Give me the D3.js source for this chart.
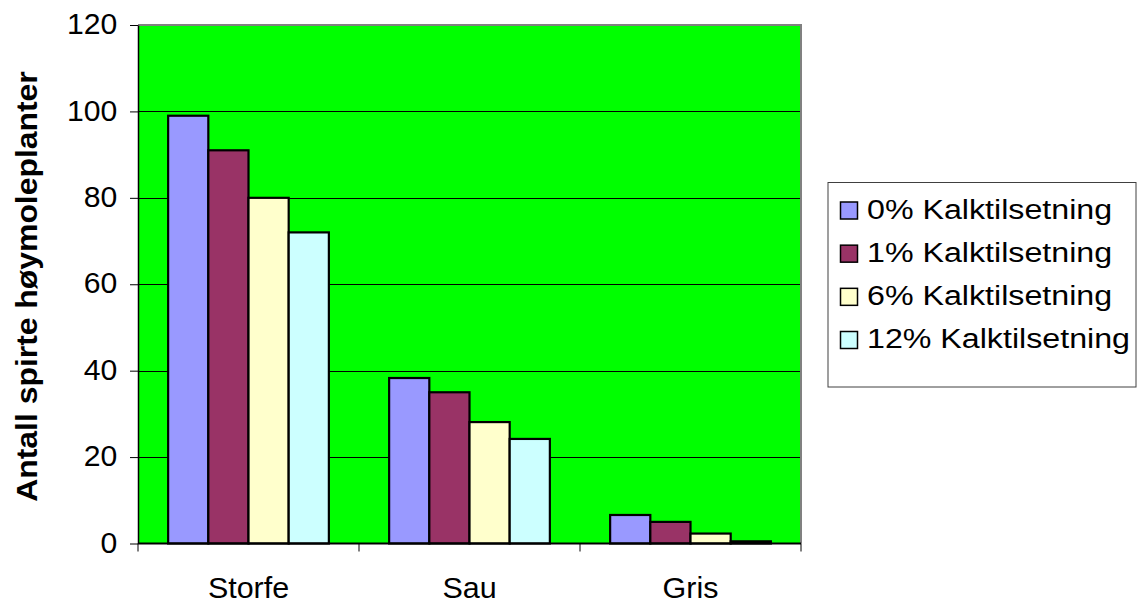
<!DOCTYPE html>
<html>
<head>
<meta charset="utf-8">
<script src="https://cdn.jsdelivr.net/npm/d3@7/dist/d3.min.js"></script>
<style>
  html, body { margin: 0; padding: 0; background: #fff; }
  svg { display: block; font-family: "Liberation Sans", Arial, sans-serif; }
</style>
</head>
<body>
<svg id="chart" width="1137" height="603"></svg>
<script>
// Chart data
const categories = ["Storfe", "Sau", "Gris"];
const seriesNames = ["0% Kalktilsetning", "1% Kalktilsetning", "6% Kalktilsetning", "12% Kalktilsetning"];
const seriesColors = ["#9999FF", "#993366", "#FFFFCC", "#CCFFFF"];
const values0 = [99, 38.3, 6.6];
const values1 = [91, 35, 5];
const values6 = [80, 28.1, 2.3];
const values12 = [72, 24.2, 0.5];
const yTicks = [0, 20, 40, 60, 80, 100, 120];
const yTitle = "Antall spirte høymoleplanter";

const seriesValues = [values0, values1, values6, values12];

const svg = d3.select("#chart");
const plot = { left: 138, right: 801, top: 25, bottom: 543.5 };

const x0 = d3.scaleBand().domain(categories).range([plot.left, plot.right]).paddingInner(0).paddingOuter(0);
// 150% gap between groups: 4 bars + 1.5 bar widths per category
const barW = x0.bandwidth() / 5.5;
const x1 = d3.scaleBand().domain(d3.range(seriesNames.length))
  .range([0.75 * barW, 4.75 * barW]).padding(0);
const y = d3.scaleLinear().domain([0, 120]).range([plot.bottom, plot.top]);

// Plot area background
svg.append("rect")
  .attr("x", plot.left).attr("y", plot.top)
  .attr("width", plot.right - plot.left).attr("height", plot.bottom - plot.top)
  .attr("fill", "#00FF00");

// Horizontal gridlines
svg.append("g").selectAll("line")
  .data(yTicks.filter(d => d > 0 && d < 120))
  .join("line")
  .attr("x1", plot.left).attr("x2", plot.right)
  .attr("y1", d => Math.round(y(d)) + 0.5).attr("y2", d => Math.round(y(d)) + 0.5)
  .attr("stroke", "#000").attr("stroke-width", 1);

// Plot border (top and right)
svg.append("path")
  .attr("d", `M${plot.left},${plot.top} H${plot.right} V${plot.bottom}`)
  .attr("fill", "none").attr("stroke", "#808080").attr("stroke-width", 2);

// Bars
const groups = svg.append("g").selectAll("g")
  .data(categories)
  .join("g")
  .attr("transform", d => `translate(${x0(d)},0)`);

groups.selectAll("rect")
  .data((c, ci) => seriesValues.map((vals, si) => ({ si, v: vals[ci] })))
  .join("rect")
  .attr("x", d => x1(d.si))
  .attr("y", d => y(d.v))
  .attr("width", x1.bandwidth())
  .attr("height", d => y(0) - y(d.v))
  .attr("fill", d => seriesColors[d.si])
  .attr("stroke", "#000")
  .attr("stroke-width", 2.2);

// Y axis
const yAxis = d3.axisLeft(y).tickValues(yTicks).tickSize(8).tickSizeOuter(0).tickPadding(16);
const gy = svg.append("g").attr("transform", `translate(${plot.left},0)`).call(yAxis);
gy.select(".domain").attr("stroke", "#000").attr("stroke-width", 1.5);
gy.selectAll(".tick line").attr("stroke", "#000").attr("stroke-width", 1);
gy.selectAll(".tick text")
  .attr("font-size", 29).attr("fill", "#000")
  .attr("font-family", "'Liberation Sans', Arial, sans-serif")
  .attr("dy", "0.3em")
  .attr("transform", "translate(-108,0) scale(1.04,1) translate(108,0)");

// X axis with tick marks at category boundaries
const gx = svg.append("g").attr("transform", `translate(0,${plot.bottom})`);
gx.append("line").attr("x1", plot.left).attr("x2", plot.right)
  .attr("y1", 0).attr("y2", 0).attr("stroke", "#000").attr("stroke-width", 2);
const boundaries = categories.map(c => x0(c)).concat([plot.right]);
gx.selectAll("line.tk").data(boundaries).join("line").attr("class", "tk")
  .attr("x1", d => d).attr("x2", d => d).attr("y1", 0).attr("y2", 8)
  .attr("stroke", "#000").attr("stroke-width", 1);
gx.selectAll("text").data(categories).join("text")
  .attr("transform", d => `translate(${x0(d) + x0.bandwidth() / 2},54) scale(1.05,1)`)
  .attr("text-anchor", "middle")
  .attr("font-size", 29)
  .attr("fill", "#000")
  .text(d => d);

// Y axis title
svg.append("text")
  .attr("transform", `translate(37,${286.5}) rotate(-90) scale(1.1,1)`)
  .attr("text-anchor", "middle")
  .attr("font-size", 29)
  .attr("font-weight", "bold")
  .attr("fill", "#000")
  .text(yTitle);

// Legend
const legend = svg.append("g");
legend.append("rect")
  .attr("x", 828).attr("y", 182.5).attr("width", 308).attr("height", 204.5)
  .attr("fill", "#fff").attr("stroke", "#404040").attr("stroke-width", 1);
const rowY = d3.scalePoint().domain(d3.range(seriesNames.length)).range([210.5, 340]);
const items = legend.selectAll("g.item").data(seriesNames).join("g").attr("class", "item")
  .attr("transform", (d, i) => `translate(0,${rowY(i)})`);
items.append("rect")
  .attr("x", 840.5).attr("y", -8.5).attr("width", 17).attr("height", 17)
  .attr("fill", (d, i) => seriesColors[i]).attr("stroke", "#000").attr("stroke-width", 1.5);
items.append("text")
  .attr("transform", "translate(867,-2) scale(1.15,1)")
  .attr("dy", "0.36em")
  .attr("font-size", 28).attr("fill", "#000")
  .text(d => d);
</script>
</body>
</html>
